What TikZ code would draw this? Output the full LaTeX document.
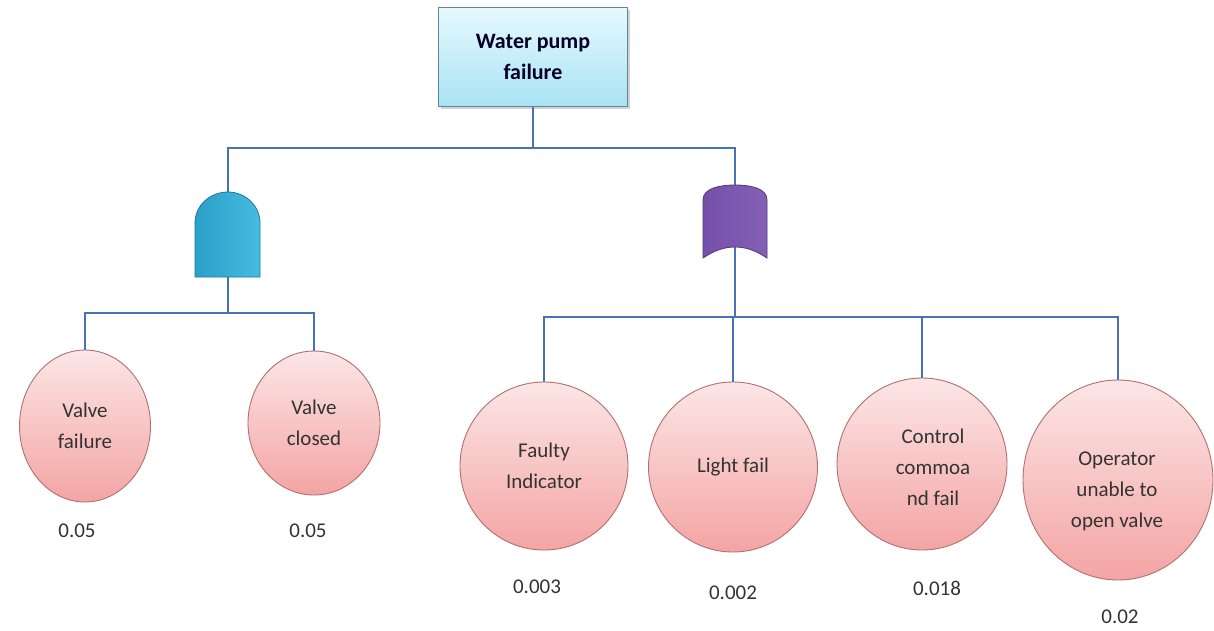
\documentclass[tikz,border=0pt]{standalone}
\usepackage{fontspec}
\setmainfont{Carlito}
\usetikzlibrary{shapes.geometric,shadows}
\definecolor{wireblue}{HTML}{4A70B5}
\definecolor{boxtop}{HTML}{E6F9FE}
\definecolor{boxbot}{HTML}{A9E3F4}
\definecolor{boxline}{HTML}{5E8896}
\definecolor{evtop}{HTML}{FCE6E6}
\definecolor{evbot}{HTML}{F4A4A4}
\definecolor{evline}{HTML}{B27070}
\definecolor{andl}{HTML}{2A9FC8}
\definecolor{andr}{HTML}{45BCE0}
\definecolor{andline}{HTML}{23789A}
\definecolor{orl}{HTML}{7650A8}
\definecolor{orr}{HTML}{8460B6}
\definecolor{orline}{HTML}{56367F}
\definecolor{txt}{HTML}{333333}
\tikzset{
  wire/.style={draw=wireblue, line width=1.4pt},
  topbox/.style={rectangle, draw=boxline, line width=1pt, top color=boxtop, bottom color=boxbot,
    minimum width=189pt, minimum height=99pt, align=center, text=black!85!blue,
    font=\fontsize{22}{31}\selectfont\bfseries,
    drop shadow={opacity=0.35, shadow xshift=2pt, shadow yshift=-3pt}},
  event/.style={ellipse, draw=evline, line width=0.9pt, top color=evtop, bottom color=evbot,
    inner sep=0pt, align=center, text=txt, font=\fontsize{21}{31}\selectfont},
  prob/.style={text=txt, font=\fontsize{21}{25}\selectfont},
  evtext/.style={align=center, text=txt, font=\fontsize{21}{31}\selectfont},
}
\begin{document}
\begin{tikzpicture}[x=1pt, y=-1pt]
\useasboundingbox[fill=white] (0,0) rectangle (1214,630);

% top event
\node[topbox] (top) at (533,56.5) {Water pump\\failure};

% gate anchor points
\coordinate (andT) at (228,192);
\coordinate (andB) at (228,277);
\coordinate (orT) at (735,185);
\coordinate (orB) at (735,247);

% basic events
\node[event, minimum width=131pt, minimum height=152pt] (vf) at (85,426) {Valve\\failure};
\node[event, minimum width=132pt, minimum height=144pt] (vc) at (314,423) {Valve\\closed};
\node[event, minimum width=168pt, minimum height=168pt] (fi) at (544,466) {Faulty\\Indicator};
\node[event, minimum width=169pt, minimum height=170pt] (lf) at (733,467) {Light fail};
\node[event, minimum width=170pt, minimum height=172pt] (cc) at (922,464) {};
\node[evtext] (cctext) at (933,467) {Control\\commoa\\nd fail};
\node[event, minimum width=190pt, minimum height=200pt] (op) at (1118,480) {};
\node[evtext] (optext) at (1117,491) {Operator\\unable to\\open valve};

% probabilities
\node[prob] (p1) at (77,531) {0.05};
\node[prob] (p2) at (308,531) {0.05};
\node[prob] (p3) at (537,587) {0.003};
\node[prob] (p4) at (733,593) {0.002};
\node[prob] (p5) at (937,588) {0.018};
\node[prob] (p6) at (1120,617) {0.02};

% connectors
\coordinate (bus0) at (533,148);
\coordinate (busL) at (228,313);
\coordinate (busR) at (735,317);
\draw[wire] (top.south) -- (bus0);
\draw[wire] (bus0) -| (andT);
\draw[wire] (bus0) -| (orT);
\draw[wire] (andB) -- (busL);
\draw[wire] (busL) -| (vf.north);
\draw[wire] (busL) -| (vc.north);
\draw[wire] (orB) -- (busR);
\draw[wire] (busR) -| (fi.north);
\draw[wire] (busR) -| (lf.north);
\draw[wire] (busR) -| (cc.north);
\draw[wire] (busR) -| (op.north);

% AND gate
\shadedraw[left color=andl, right color=andr, draw=andline, line width=0.8pt]
  (195,277) -- (195,223)
  .. controls (195,205.9) and (209.5,192) .. (andT)
  .. controls (245.5,192) and (260,205.9) .. (260,223)
  -- (260,277) -- cycle;

% OR gate
\shadedraw[left color=orl, right color=orr, draw=orline, line width=0.8pt]
  (703,200) .. controls (703,188) and (720,185) .. (orT)
  .. controls (750,185) and (767,188) .. (767,200)
  -- (767,258) .. controls (755,250) and (745,247) .. (orB)
  .. controls (725,247) and (715,250) .. (703,258) -- cycle;
\end{tikzpicture}
\end{document}
